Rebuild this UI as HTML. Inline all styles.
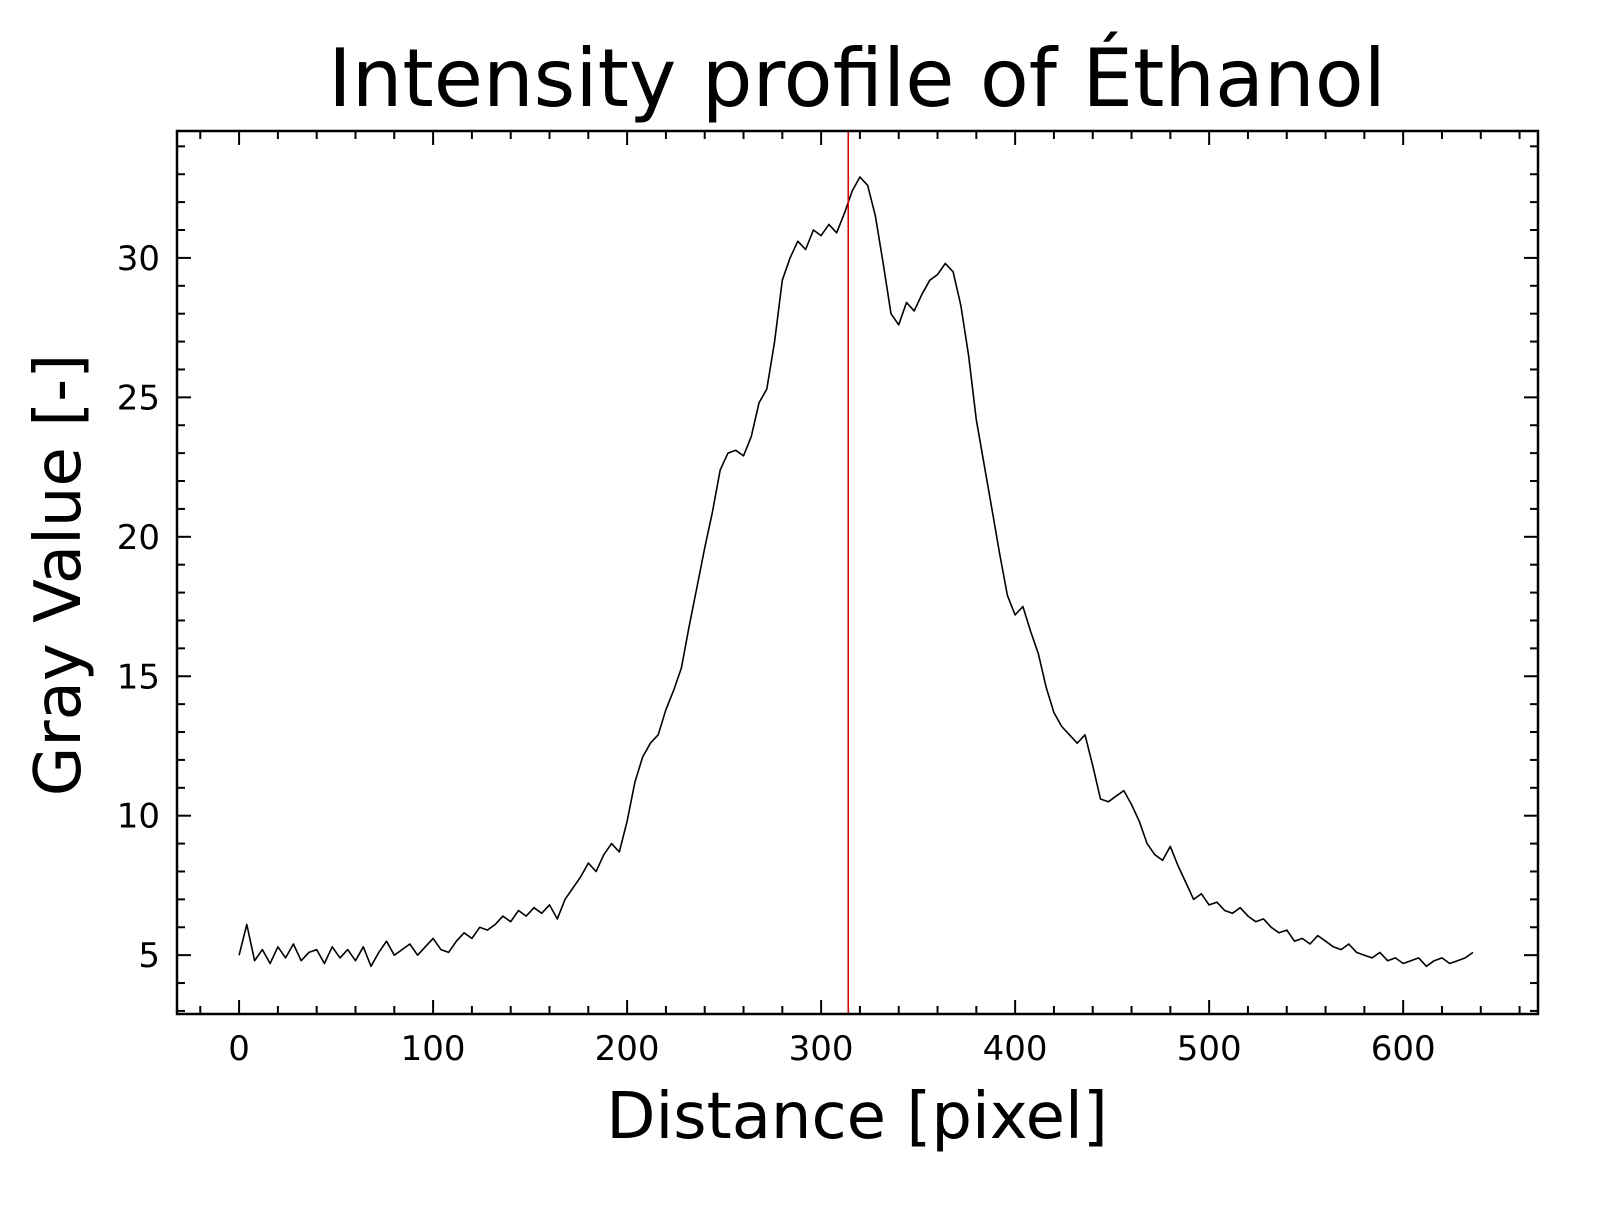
<!DOCTYPE html>
<html><head><meta charset="utf-8"><style>
html,body{margin:0;padding:0;background:#fff;width:1605px;height:1208px;overflow:hidden;}
svg{display:block;font-family:"DejaVu Sans","Liberation Sans",sans-serif;}
</style></head><body>
<svg id="chart" width="1605" height="1208" viewBox="0 0 1605 1208" xmlns="http://www.w3.org/2000/svg">
<rect width="1605" height="1208" fill="#fff"/>
<text x="857" y="106" font-size="80" text-anchor="middle">Intensity profile of Éthanol</text>
<text x="857" y="1138" font-size="64" text-anchor="middle">Distance [pixel]</text>
<text transform="translate(80,575) rotate(-90)" font-size="64" text-anchor="middle">Gray Value [-]</text>
<g id="ticks"></g>
<g id="plot"></g>
<rect x="177" y="131" width="1361" height="883" fill="none" stroke="#000" stroke-width="2.5"/>
</svg>
<script>
const xStep = 4;
const grayValues = [
5.0,6.1,4.8,5.2,4.7,5.3,4.9,5.4,4.8,5.1,5.2,4.7,5.3,4.9,5.2,4.8,
5.3,4.6,5.1,5.5,5.0,5.2,5.4,5.0,5.3,5.6,5.2,5.1,5.5,5.8,5.6,6.0,
5.9,6.1,6.4,6.2,6.6,6.4,6.7,6.5,6.8,6.3,7.0,7.4,7.8,8.3,8.0,8.6,
9.0,8.7,9.8,11.2,12.1,12.6,12.9,13.8,14.5,15.3,16.8,18.2,19.6,20.9,22.4,23.0,
23.1,22.9,23.6,24.8,25.3,27.0,29.2,30.0,30.6,30.3,31.0,30.8,31.2,30.9,31.6,32.4,
32.9,32.6,31.5,29.8,28.0,27.6,28.4,28.1,28.7,29.2,29.4,29.8,29.5,28.3,26.5,24.2,
22.6,21.0,19.4,17.9,17.2,17.5,16.6,15.8,14.6,13.7,13.2,12.9,12.6,12.9,11.8,10.6,
10.5,10.7,10.9,10.4,9.8,9.0,8.6,8.4,8.9,8.2,7.6,7.0,7.2,6.8,6.9,6.6,
6.5,6.7,6.4,6.2,6.3,6.0,5.8,5.9,5.5,5.6,5.4,5.7,5.5,5.3,5.2,5.4,
5.1,5.0,4.9,5.1,4.8,4.9,4.7,4.8,4.9,4.6,4.8,4.9,4.7,4.8,4.9,5.1
];
const markerX = [314];
const xTickLabels = [0,100,200,300,400,500,600];
const yTickLabels = [5,10,15,20,25,30];

const NS = "http://www.w3.org/2000/svg";
const L=177,R=1538,T=131,B=1014;
const xMin=-32.0, xMax=669.5, yMin=2.89, yMax=34.55;
const X = v => L + (v - xMin) / (xMax - xMin) * (R - L);
const Y = v => B - (v - yMin) / (yMax - yMin) * (B - T);
function mk(tag, attrs, parent){const e=document.createElementNS(NS,tag);for(const k in attrs)e.setAttribute(k,attrs[k]);parent.appendChild(e);return e;}
const ticks=document.getElementById('ticks'), plot=document.getElementById('plot');

for(let v=-20; v<=660; v+=20){
  const major = v%100===0;
  const len = major?14:8, x=X(v);
  const t1=mk('line',{x1:x,x2:x,y1:B,y2:B-len,stroke:'#000','stroke-width':2},ticks);
  
  
  const t2=mk('line',{x1:x,x2:x,y1:T,y2:T+len,stroke:'#000','stroke-width':2},ticks);
  
  
}
xTickLabels.forEach(v=>{
  const t=mk('text',{x:X(v),y:1060,'font-size':34,'text-anchor':'middle'},ticks);
  t.textContent=v;
  
  
});
for(let v=3; v<=34; v+=1){
  const major = v%5===0;
  const len = major?14:8, y=Y(v);
  const t1=mk('line',{x1:L,x2:L+len,y1:y,y2:y,stroke:'#000','stroke-width':2},ticks);
  
  
  const t2=mk('line',{x1:R,x2:R-len,y1:y,y2:y,stroke:'#000','stroke-width':2},ticks);
  
  
}
yTickLabels.forEach(v=>{
  const t=mk('text',{x:160,y:Y(v)+12,'font-size':34,'text-anchor':'end'},ticks);
  t.textContent=v;
  
  
});
const pts = grayValues.map((v,i)=>X(i*xStep).toFixed(1)+','+Y(v).toFixed(1)).join(' ');
const line=mk('polyline',{points:pts,fill:'none',stroke:'#000','stroke-width':1.6,'stroke-linejoin':'round'},plot);


markerX.forEach(v=>{
  const m=mk('line',{x1:X(v),x2:X(v),y1:T,y2:B,stroke:'#e00000','stroke-width':1.6},plot);
  
  
});
</script>
</body></html>
